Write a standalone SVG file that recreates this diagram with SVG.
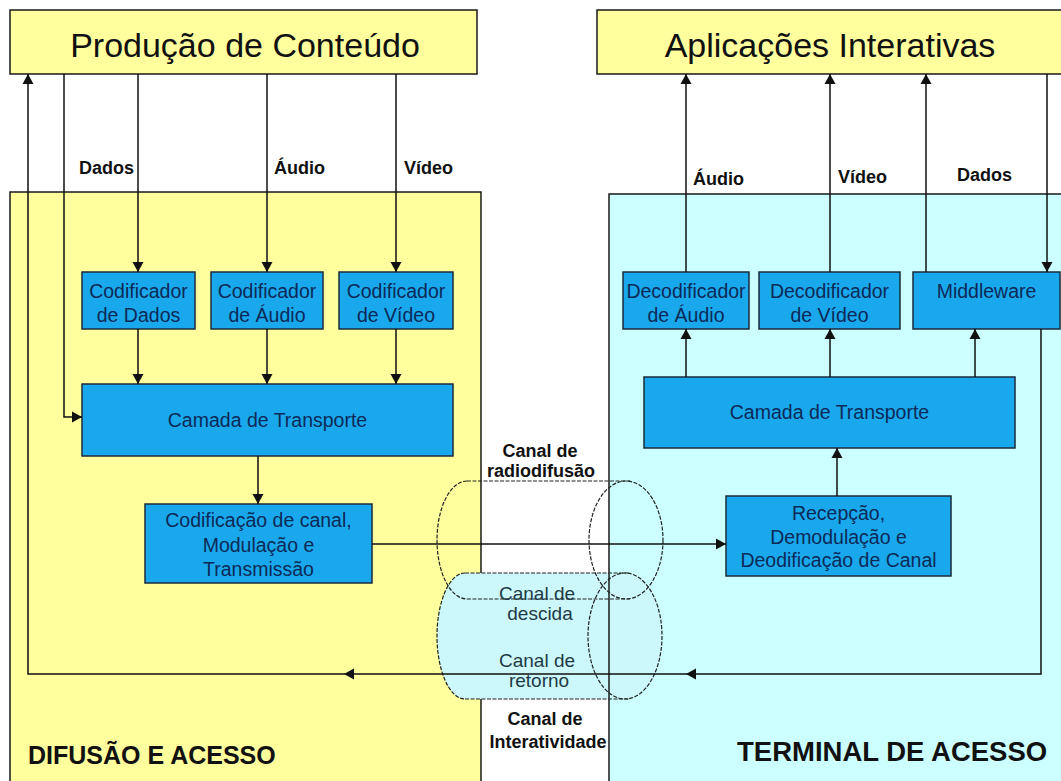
<svg xmlns="http://www.w3.org/2000/svg" width="1061" height="781" viewBox="0 0 1061 781">
<defs>
<style>
.reg-y{fill:#ffff9e;stroke:#1a1a1a;stroke-width:1.5}
.reg-c{fill:#ccffff;stroke:#1a1a1a;stroke-width:1.5}
.box{fill:#19a8ec;stroke:#1b2b3b;stroke-width:1.5}
.t{font-family:"Liberation Sans",Arial,sans-serif}
.bt{font-size:19.5px;fill:#0c2a58;text-anchor:middle}
.ttl{font-size:34px;fill:#111;text-anchor:middle}
.lbl{font-size:18px;font-weight:bold;fill:#111}
.ch{font-size:18px;font-weight:bold;fill:#111;text-anchor:middle}
.cn{font-size:19px;fill:#1e3a46;text-anchor:middle}
.big{font-weight:bold;fill:#111}
.conn path{fill:none;stroke:#111;stroke-width:1.5}
.cyl{fill:none;stroke:#222;stroke-width:1.2;stroke-dasharray:4 1.5}
</style>
<marker id="ah" markerUnits="userSpaceOnUse" markerWidth="11" markerHeight="12" refX="10" refY="6" orient="auto">
<path d="M0,0.5 L10,6 L0,11.5 z" fill="#111"/>
</marker>
</defs>
<rect width="1061" height="781" fill="#ffffff"/>

<g id="regiao-difusao">
<rect class="reg-y" x="10" y="192" width="471" height="600"/>
<text class="t big" x="28" y="764" font-size="25">DIFUSÃO E ACESSO</text>
</g>
<g id="regiao-terminal">
<rect class="reg-c" x="609" y="194" width="470" height="600"/>
<text class="t big" x="737" y="761" font-size="27.5">TERMINAL DE ACESSO</text>
</g>

<g id="producao">
<rect class="reg-y" x="10" y="10" width="467" height="64"/>
<text class="t ttl" x="245" y="57">Produção de Conteúdo</text>
</g>
<g id="aplicacoes">
<rect class="reg-y" x="597" y="10" width="480" height="64"/>
<text class="t ttl" x="830" y="57">Aplicações Interativas</text>
</g>

<g id="cod-dados">
<rect class="box" x="82" y="272" width="113" height="57"/>
<text class="t bt" x="138.5" y="298">Codificador</text>
<text class="t bt" x="138.5" y="322">de Dados</text>
</g>
<g id="cod-audio">
<rect class="box" x="211" y="272" width="112" height="57"/>
<text class="t bt" x="267" y="298">Codificador</text>
<text class="t bt" x="267" y="322">de Áudio</text>
</g>
<g id="cod-video">
<rect class="box" x="339" y="272" width="114" height="57"/>
<text class="t bt" x="396" y="298">Codificador</text>
<text class="t bt" x="396" y="322">de Vídeo</text>
</g>
<g id="camada-tx">
<rect class="box" x="82" y="384" width="371" height="72"/>
<text class="t bt" x="267.5" y="427">Camada de Transporte</text>
</g>
<g id="codif-canal">
<rect class="box" x="145" y="504" width="227" height="79"/>
<text class="t bt" x="258.5" y="527">Codificação de canal,</text>
<text class="t bt" x="258.5" y="552">Modulação e</text>
<text class="t bt" x="258.5" y="576">Transmissão</text>
</g>

<g id="dec-audio">
<rect class="box" x="623" y="272" width="126" height="57"/>
<text class="t bt" x="686" y="298">Decodificador</text>
<text class="t bt" x="686" y="322">de Áudio</text>
</g>
<g id="dec-video">
<rect class="box" x="759" y="272" width="141" height="57"/>
<text class="t bt" x="829.5" y="298">Decodificador</text>
<text class="t bt" x="829.5" y="322">de Vídeo</text>
</g>
<g id="middleware">
<rect class="box" x="913" y="272" width="147" height="57"/>
<text class="t bt" x="986.5" y="298">Middleware</text>
</g>
<g id="camada-rx">
<rect class="box" x="644" y="377" width="371" height="71"/>
<text class="t bt" x="829.5" y="419">Camada de Transporte</text>
</g>
<g id="recepcao">
<rect class="box" x="726" y="496" width="225" height="80"/>
<text class="t bt" x="838.5" y="520">Recepção,</text>
<text class="t bt" x="838.5" y="544">Demodulação e</text>
<text class="t bt" x="838.5" y="567">Deodificação de Canal</text>
</g>

<g id="canal-interatividade">
<path d="M465,573 H625 A37,63 0 0,1 625,699 H465 A28,63 0 0,1 465,573 z" fill="#ccf8fc" stroke="none"/>
<line x1="609" y1="573" x2="609" y2="699" stroke="#1a1a1a" stroke-width="1.5"/>
</g>
<g id="canal-radiodifusao">
<path class="cyl" d="M467,481 A30,59 0 0,0 467,599 M467,481 H630 M467,599 H630"/>
<ellipse class="cyl" cx="626" cy="540" rx="37" ry="59"/>
</g>
<g id="canal-interatividade-contorno">
<path class="cyl" d="M465,573 A28,63 0 0,0 465,699 M465,573 H630 M465,699 H630"/>
<ellipse class="cyl" cx="625" cy="636" rx="37" ry="63"/>
</g>

<g class="conn">
<path d="M138,74 V272" marker-end="url(#ah)"/>
<path d="M267,74 V272" marker-end="url(#ah)"/>
<path d="M396,74 V272" marker-end="url(#ah)"/>
<path d="M138,329 V384" marker-end="url(#ah)"/>
<path d="M267,329 V384" marker-end="url(#ah)"/>
<path d="M396,329 V384" marker-end="url(#ah)"/>
<path d="M64,74 V417 H82" marker-end="url(#ah)"/>
<path d="M258,456 V504" marker-end="url(#ah)"/>
<path d="M372,544 H726" marker-end="url(#ah)"/>
<path d="M837,496 V448" marker-end="url(#ah)"/>
<path d="M686,377 V329" marker-end="url(#ah)"/>
<path d="M830,377 V329" marker-end="url(#ah)"/>
<path d="M975,377 V329" marker-end="url(#ah)"/>
<path d="M686,272 V74" marker-end="url(#ah)"/>
<path d="M830,272 V74" marker-end="url(#ah)"/>
<path d="M926,272 V74" marker-end="url(#ah)"/>
<path d="M1047,74 V272" marker-end="url(#ah)"/>
<path d="M1041,329 V674 H686" marker-end="url(#ah)"/>
<path d="M686,674 H344" marker-end="url(#ah)"/>
<path d="M344,674 H28 V74" marker-end="url(#ah)"/>
</g>

<g id="rotulos">
<text class="t lbl" x="79" y="174">Dados</text>
<text class="t lbl" x="274" y="174">Áudio</text>
<text class="t lbl" x="404" y="174">Vídeo</text>
<text class="t lbl" x="693" y="185">Áudio</text>
<text class="t lbl" x="838" y="183">Vídeo</text>
<text class="t lbl" x="957" y="181">Dados</text>
<text class="t ch" x="540" y="457">Canal de</text>
<text class="t ch" x="541" y="477">radiodifusão</text>
<text class="t cn" x="537" y="600">Canal de</text>
<text class="t cn" x="540" y="620">descida</text>
<text class="t cn" x="537" y="667">Canal de</text>
<text class="t cn" x="539" y="687">retorno</text>
<text class="t ch" x="545" y="725">Canal de</text>
<text class="t ch" x="548" y="748">Interatividade</text>
</g>
</svg>
